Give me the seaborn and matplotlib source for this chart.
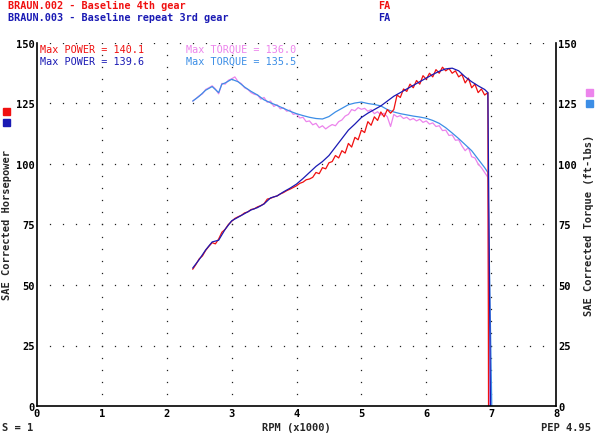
import matplotlib
matplotlib.use("Agg")
import matplotlib.pyplot as plt
import seaborn as sns

sns.set_style("white")
plt.rcParams["font.family"] = ["DejaVu Sans Mono"]

RED = "#f01010"
BLUE = "#1a1ab4"
PINK = "#ec84ec"
LBLUE = "#3c8ee6"

# BRAUN.003 (blue run) - power, smooth
rpm_b_pow = [2.4, 2.5, 2.6, 2.7, 2.8, 2.9, 3.0, 3.1, 3.2, 3.3, 3.4, 3.5, 3.6, 3.7, 3.8, 3.9,
             4.0, 4.1, 4.2, 4.3, 4.4, 4.5, 4.6, 4.7, 4.8, 4.9, 5.0, 5.1, 5.2, 5.3, 5.4, 5.5,
             5.6, 5.7, 5.8, 5.9, 6.0, 6.1, 6.2, 6.3, 6.4, 6.5, 6.6, 6.7, 6.8, 6.9, 6.95, 6.99]
hp_blue = [57.0, 60.5, 64.5, 67.8, 68.5, 73.0, 76.5, 78.0, 79.5, 81.0, 82.0, 83.5, 86.0, 86.8, 88.5, 90.0,
           91.7, 94.0, 96.5, 99.0, 101.0, 103.5, 107.0, 110.5, 114.0, 116.5, 119.2, 121.0, 122.5, 124.0, 126.0, 128.0,
           129.5, 131.0, 132.5, 134.0, 135.5, 137.0, 138.3, 139.3, 139.6, 138.5, 136.0, 134.0, 132.3, 130.8, 129.5, 0.0]

# BRAUN.003 - torque
rpm_b_tq = [2.4, 2.5, 2.6, 2.7, 2.8, 2.85, 2.9, 3.0, 3.1, 3.2, 3.3, 3.4, 3.5, 3.6, 3.7, 3.8, 3.9,
            4.0, 4.1, 4.2, 4.3, 4.4, 4.5, 4.6, 4.7, 4.8, 4.9, 5.0, 5.1, 5.2, 5.3, 5.4, 5.5,
            5.6, 5.7, 5.8, 5.9, 6.0, 6.1, 6.2, 6.3, 6.4, 6.5, 6.6, 6.7, 6.8, 6.9, 6.95, 7.01]
tq_blue = [126.0, 128.0, 130.5, 132.0, 129.5, 133.0, 133.5, 135.0, 134.0, 131.8, 130.0, 128.5, 126.5, 125.3, 124.2, 123.0, 121.8,
           120.8, 120.0, 119.3, 118.8, 118.6, 119.6, 121.5, 123.0, 124.5, 125.2, 125.6, 125.0, 124.6, 124.0, 122.5, 121.5,
           120.8, 120.3, 119.8, 119.4, 118.9, 118.0, 116.8, 115.0, 112.8, 110.5, 108.0, 105.5, 102.0, 98.5, 96.5, 0.0]

# BRAUN.002 (red run) - power, noisy
rpm_r_pow = [2.40, 2.45, 2.50, 2.55, 2.60, 2.65, 2.70, 2.75, 2.80, 2.85, 2.90, 2.95, 3.00, 3.05, 3.10, 3.15,
             3.20, 3.25, 3.30, 3.35, 3.40, 3.45, 3.50, 3.55, 3.60, 3.65, 3.70, 3.75, 3.80, 3.85, 3.90, 3.95,
             4.00, 4.05, 4.10, 4.15, 4.20, 4.25, 4.30, 4.35, 4.40, 4.45, 4.50, 4.55, 4.60, 4.65, 4.70, 4.75,
             4.80, 4.85, 4.90, 4.95, 5.00, 5.05, 5.10, 5.15, 5.20, 5.25, 5.30, 5.35, 5.40, 5.45, 5.50, 5.55,
             5.60, 5.65, 5.70, 5.75, 5.80, 5.85, 5.90, 5.95, 6.00, 6.05, 6.10, 6.15, 6.20, 6.25, 6.30, 6.35,
             6.40, 6.45, 6.50, 6.55, 6.60, 6.65, 6.70, 6.75, 6.80, 6.85, 6.90, 6.95, 6.96]
hp_red = [56.5, 58.5, 60.8, 62.0, 64.3, 66.0, 67.5, 67.0, 69.0, 71.8, 73.0, 75.0, 76.3, 77.5, 78.2, 78.8,
          79.8, 80.2, 81.2, 81.5, 82.3, 82.8, 83.6, 85.5, 85.8, 86.4, 86.8, 87.6, 88.2, 89.0, 89.6, 90.3,
          91.0, 92.0, 92.5, 93.5, 93.8, 94.5, 96.5, 96.0, 98.5, 98.0, 100.5, 101.0, 103.5, 102.5, 105.5, 104.5,
          108.5, 107.0, 111.0, 110.0, 114.0, 113.0, 117.5, 116.0, 119.5, 118.0, 121.5, 119.5, 122.5, 121.0, 122.5, 128.5,
          127.5, 131.0, 130.0, 133.0, 131.5, 134.5, 133.0, 136.5, 135.0, 137.5, 136.0, 139.0, 137.5, 140.0, 138.5, 139.5,
          137.5, 138.5, 136.0, 137.0, 133.5, 135.5, 131.5, 133.0, 129.5, 131.0, 128.5, 129.5, 0.0]

# BRAUN.002 - torque, noisy
rpm_r_tq = [2.40, 2.45, 2.50, 2.55, 2.60, 2.65, 2.70, 2.75, 2.80, 2.85, 2.90, 2.95, 3.00, 3.05, 3.10, 3.15,
            3.20, 3.25, 3.30, 3.35, 3.40, 3.45, 3.50, 3.55, 3.60, 3.65, 3.70, 3.75, 3.80, 3.85, 3.90, 3.95,
            4.00, 4.05, 4.10, 4.15, 4.20, 4.25, 4.30, 4.35, 4.40, 4.45, 4.50, 4.55, 4.60, 4.65, 4.70, 4.75,
            4.80, 4.85, 4.90, 4.95, 5.00, 5.05, 5.10, 5.15, 5.20, 5.25, 5.30, 5.35, 5.40, 5.45, 5.50, 5.55,
            5.60, 5.65, 5.70, 5.75, 5.80, 5.85, 5.90, 5.95, 6.00, 6.05, 6.10, 6.15, 6.20, 6.25, 6.30, 6.35,
            6.40, 6.45, 6.50, 6.55, 6.60, 6.65, 6.70, 6.75, 6.80, 6.85, 6.90, 6.95, 6.97]
tq_red = [126.0, 127.0, 128.2, 129.0, 130.8, 131.5, 132.3, 131.0, 129.0, 133.3, 133.0, 134.6, 135.2, 136.0, 134.0, 133.2,
          131.5, 130.8, 129.5, 128.8, 128.5, 126.8, 127.5, 125.5, 126.0, 123.8, 124.5, 122.8, 123.2, 121.8, 122.3, 120.5,
          120.8, 119.0, 119.3, 117.5, 117.8, 116.2, 116.8, 115.0, 115.8, 114.5, 115.5, 116.3, 115.8, 117.5, 118.2, 119.8,
          120.5, 122.5, 122.0, 123.3, 122.6, 123.0, 121.8, 122.5, 120.8, 121.6, 120.2, 121.0, 119.5, 115.5, 120.5, 119.5,
          120.0, 118.8, 119.3, 118.2, 118.8, 117.8, 118.5, 117.2, 117.8, 116.5, 117.0, 115.5, 115.8, 113.8, 114.0, 111.8,
          112.0, 109.8, 110.0, 107.5, 105.5, 106.8, 103.0, 102.5, 100.0, 98.5, 96.5, 94.5, 0.0]

x_ticks = [0, 1, 2, 3, 4, 5, 6, 7, 8]
y_ticks = [0, 25, 50, 75, 100, 125, 150]

W, H = 595, 435
fig = plt.figure(figsize=(W / 100, H / 100), dpi=100)
ax = fig.add_axes([37 / W, 1 - 407 / H, (556 - 37) / W, (407 - 44) / H])


def px(x, y):
    return x / W, 1 - y / H


# dotted grid
for yv in y_ticks[1:]:
    xs = [i * 0.2 for i in range(1, 40)]
    ax.plot(xs, [yv] * len(xs), ls="none", marker="s", ms=0.9, mew=0, color="#202020", zorder=1)
for xv in x_ticks[1:-1]:
    ys = list(range(5, 150, 5))
    ax.plot([xv] * len(ys), ys, ls="none", marker="s", ms=0.9, mew=0, color="#202020", zorder=1)

lw = 0.9
sns.lineplot(x=rpm_r_tq, y=tq_red, sort=False, estimator=None, color=PINK, lw=lw, ax=ax)
sns.lineplot(x=rpm_b_tq, y=tq_blue, sort=False, estimator=None, color=LBLUE, lw=lw, ax=ax)
sns.lineplot(x=rpm_r_pow, y=hp_red, sort=False, estimator=None, color=RED, lw=lw, ax=ax)
sns.lineplot(x=rpm_b_pow, y=hp_blue, sort=False, estimator=None, color=BLUE, lw=lw, ax=ax)

ax.set_xlim(0, 8)
ax.set_ylim(0, 150)
ax.set_xticks(x_ticks)
ax.set_yticks(y_ticks)
ax.tick_params(length=0, labelsize=7.5, labelcolor="black", pad=1.5, labelright=True)
for lab in ax.get_xticklabels() + ax.get_yticklabels():
    lab.set_fontweight("bold")
ax.set_xlabel("")
ax.set_ylabel("")
ax.spines["top"].set_visible(False)
for s in ["left", "right", "bottom"]:
    ax.spines[s].set_color("black")
    ax.spines[s].set_linewidth(1.2)

fs = 7.3
fig.text(*px(8, 6), "BRAUN.002 - Baseline 4th gear", color=RED, fontsize=fs, fontweight="bold", va="center")
fig.text(*px(8, 18), "BRAUN.003 - Baseline repeat 3rd gear", color=BLUE, fontsize=fs, fontweight="bold", va="center")
fig.text(*px(378, 6), "FA", color=RED, fontsize=fs, fontweight="bold", va="center")
fig.text(*px(378, 18), "FA", color=BLUE, fontsize=fs, fontweight="bold", va="center")

fig.text(*px(40, 50), "Max POWER = 140.1", color=RED, fontsize=fs, va="center")
fig.text(*px(40, 62), "Max POWER = 139.6", color=BLUE, fontsize=fs, va="center")
fig.text(*px(186, 50), "Max TORQUE = 136.0", color=PINK, fontsize=fs, va="center")
fig.text(*px(186, 62), "Max TORQUE = 135.5", color=LBLUE, fontsize=fs, va="center")

fig.text(*px(7, 225), "SAE Corrected Horsepower", rotation=90, fontsize=7.5, fontweight="bold",
         ha="center", va="center")
fig.text(*px(589, 225), "SAE Corrected Torque (ft-lbs)", rotation=90, fontsize=7.5, fontweight="bold",
         ha="center", va="center")

fig.text(*px(2, 428), "S = 1", fontsize=7.5, fontweight="bold", va="center")
fig.text(*px(296, 428), "RPM (x1000)", fontsize=7.5, fontweight="bold", ha="center", va="center")
fig.text(*px(591, 428), "PEP 4.95", fontsize=7.5, fontweight="bold", ha="right", va="center")

# small colour keys next to the axis titles
for (x0, y0, c) in [(3, 109, RED), (3, 120, BLUE), (586, 90, PINK), (586, 101, LBLUE)]:
    fig.patches.append(plt.Rectangle(px(x0, y0 + 7), 7 / W, 7 / H, transform=fig.transFigure,
                                     color=c, figure=fig))

fig.savefig("out.png", dpi=100)
